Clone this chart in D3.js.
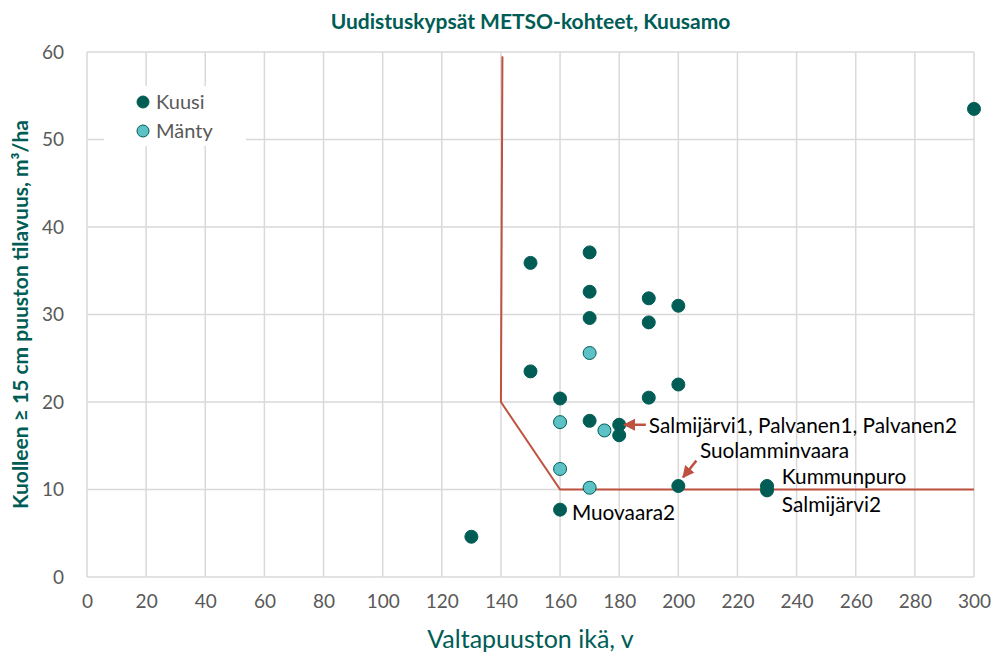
<!DOCTYPE html>
<html>
<head>
<meta charset="utf-8">
<script src="https://cdn.jsdelivr.net/npm/d3@7"></script>
<style>
  body { margin: 0; background: #fff; }
  svg { font-family: Lato, "Open Sans", sans-serif; }
</style>
</head>
<body>
<svg width="993" height="655"></svg>
<script>
// data
const kuusiAge = [130, 150, 150, 160, 160, 170, 170, 170, 170, 180, 180, 190, 190, 190, 200, 200, 200, 230, 230, 300];
const kuusiVol = [4.6, 35.9, 23.5, 20.4, 7.7, 37.1, 32.6, 29.6, 17.85, 17.4, 16.2, 31.85, 29.1, 20.5, 31.0, 22.0, 10.4, 10.4, 9.9, 53.5];
const mantyAge = [170, 160, 175, 160, 170];
const mantyVol = [25.6, 17.7, 16.75, 12.35, 10.2];
const limitAge = [140.5, 140, 160, 300];
const limitVol = [59.5, 20, 10, 10];
const xTicks = d3.range(0, 301, 20);
const yTicks = d3.range(0, 61, 10);
const labelText = ["Salmijärvi1, Palvanen1, Palvanen2", "Suolamminvaara", "Kummunpuro", "Salmijärvi2", "Muovaara2"];
const labelAge = [190, 207.3, 235, 235, 164];
const labelVol = [17.3, 14.4, 11.5, 8.3, 7.3];

const DARK = "#005d55";
const LIGHT = "#5cc2c6";
const RED = "#bf5140";

var svg = d3.select("svg");
const pLeft = 87, pRight = 974, pTop = 52, pBottom = 577;

const x = d3.scaleLinear().domain([0, 300]).range([pLeft, pRight]);
const y = d3.scaleLinear().domain([0, 60]).range([pBottom, pTop]);

// grid
svg.append("g").selectAll("line").data(xTicks).enter().append("line")
    .attr("x1", d => x(d)).attr("x2", d => x(d))
    .attr("y1", pTop).attr("y2", pBottom)
    .attr("stroke", "#d9d9d9").attr("stroke-width", 1.5);
svg.append("g").selectAll("line").data(yTicks).enter().append("line")
    .attr("x1", pLeft).attr("x2", pRight)
    .attr("y1", d => y(d)).attr("y2", d => y(d))
    .attr("stroke", "#d9d9d9").attr("stroke-width", 1.5);

// axes (labels only)
const xAxis = svg.append("g").attr("transform", `translate(0,${pBottom})`)
    .call(d3.axisBottom(x).tickValues(xTicks).tickSize(0).tickPadding(18));
const yAxis = svg.append("g").attr("transform", `translate(${pLeft},0)`)
    .call(d3.axisLeft(y).tickValues(yTicks).tickSize(0).tickPadding(23));
[xAxis, yAxis].forEach(a => {
    a.select(".domain").remove();
    a.selectAll("text").attr("font-size", "19px").attr("fill", "#595959")
        .attr("font-family", "Lato, sans-serif");
});

// legend box
svg.append("rect").attr("x", 104).attr("y", 86).attr("width", 142).attr("height", 60).attr("fill", "#fff");
const legend = [["Kuusi", DARK], ["Mänty", LIGHT]];
legend.forEach((l, i) => {
    svg.append("circle").attr("cx", 143).attr("cy", 102 + i * 29).attr("r", 6)
        .attr("fill", l[1]).attr("stroke", DARK).attr("stroke-width", 1);
    svg.append("text").attr("x", 156).attr("y", 102 + i * 29).attr("dy", "0.35em")
        .attr("font-size", "20px").attr("fill", "#595959").text(l[0]);
});

// limit line
const limit = limitAge.map((a, i) => [a, limitVol[i]]);
svg.append("path").datum(limit)
    .attr("d", d3.line().x(d => x(d[0])).y(d => y(d[1])))
    .attr("fill", "none").attr("stroke", RED).attr("stroke-width", 2);

// points
const kuusi = kuusiAge.map((a, i) => ({ age: a, vol: kuusiVol[i] }));
const manty = mantyAge.map((a, i) => ({ age: a, vol: mantyVol[i] }));
svg.append("g").selectAll("circle").data(kuusi).enter().append("circle")
    .attr("cx", d => x(d.age)).attr("cy", d => y(d.vol)).attr("r", 6.5)
    .attr("fill", DARK).attr("stroke", DARK).attr("stroke-width", 1);
svg.append("g").selectAll("circle").data(manty).enter().append("circle")
    .attr("cx", d => x(d.age)).attr("cy", d => y(d.vol)).attr("r", 6.5)
    .attr("fill", LIGHT).attr("stroke", DARK).attr("stroke-width", 1);

// arrows
svg.append("defs").append("marker").attr("id", "arr")
    .attr("viewBox", "0 0 10 10").attr("refX", 9).attr("refY", 5)
    .attr("markerWidth", 4.8).attr("markerHeight", 4.8).attr("orient", "auto")
    .append("path").attr("d", "M0,0 L10,5 L0,10 z").attr("fill", RED);
const arrows = [[[189, 17.4], [181.7, 17.4]], [[206.1, 13.3], [201.6, 11.4]]];
arrows.forEach(a => {
    svg.append("line")
        .attr("x1", x(a[0][0])).attr("y1", y(a[0][1]))
        .attr("x2", x(a[1][0])).attr("y2", y(a[1][1]))
        .attr("stroke", RED).attr("stroke-width", 2.5).attr("marker-end", "url(#arr)");
});

// point labels
svg.append("g").selectAll("text").data(labelText).enter().append("text")
    .attr("x", (d, i) => x(labelAge[i])).attr("y", (d, i) => y(labelVol[i]))
    .attr("dy", "0.35em").attr("font-size", "20.8px").attr("fill", "#000")
    .text(d => d);

// titles
svg.append("text").attr("x", (pLeft + pRight) / 2).attr("y", 22).attr("dy", "0.35em")
    .attr("text-anchor", "middle").attr("font-size", "21px").attr("font-weight", "bold")
    .attr("fill", DARK).text("Uudistuskypsät METSO-kohteet, Kuusamo");
svg.append("text").attr("x", (pLeft + pRight) / 2).attr("y", 639).attr("dy", "0.35em")
    .attr("text-anchor", "middle").attr("font-size", "25px")
    .attr("fill", DARK).text("Valtapuuston ikä, v");
svg.append("text").attr("transform", `translate(21,${(pTop + pBottom) / 2}) rotate(-90)`)
    .attr("dy", "0.35em").attr("text-anchor", "middle").attr("font-size", "21px")
    .attr("font-weight", "bold").attr("fill", DARK)
    .text("Kuolleen ≥ 15 cm puuston tilavuus, m³/ha");
</script>
</body>
</html>
